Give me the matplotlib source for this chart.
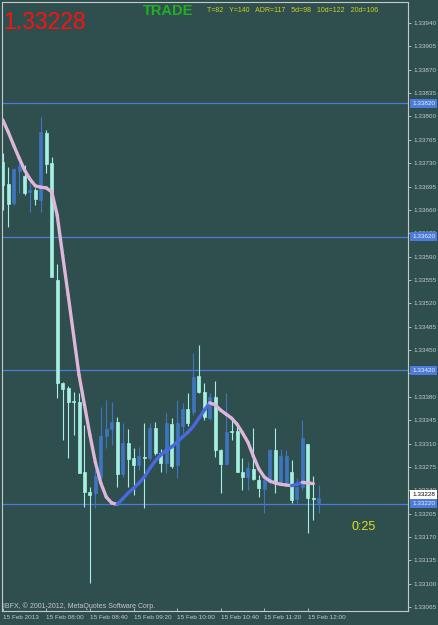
import matplotlib
matplotlib.use("Agg")
import matplotlib.pyplot as plt
import numpy as np
import pandas as pd

plt.rcParams['font.family'] = ['Liberation Sans', 'DejaVu Sans']

# M5 bars, 15 Feb 2013 from 07:20
opens = [1.33732, 1.33699, 1.33670, 1.33718, 1.33711, 1.33687, 1.33690, 1.33675, 1.33775, 1.33730,
         1.33555, 1.33401, 1.33393, 1.33374, 1.33372, 1.33267, 1.33237, 1.33236, 1.33260, 1.33321,
         1.33332, 1.33342, 1.33264, 1.33311, 1.33288, 1.33278, 1.33290, 1.33288, 1.33333, 1.33296,
         1.33281, 1.33339, 1.33278, 1.33336, 1.33362, 1.33357, 1.33411, 1.33387, 1.33348, 1.33380,
         1.33300, 1.33279, 1.33329, 1.33329, 1.33267, 1.33260, 1.33272, 1.33255, 1.33242, 1.33252,
         1.33300, 1.33251, 1.33252, 1.33267, 1.33227, 1.33245, 1.33309, 1.33228, 1.33221]
highs = [1.33745, 1.33724, 1.33723, 1.33732, 1.33727, 1.33711, 1.33693, 1.33799, 1.33780, 1.33739,
         1.33579, 1.33402, 1.33396, 1.33387, 1.33386, 1.33338, 1.33245, 1.33270, 1.33365, 1.33375,
         1.33372, 1.33350, 1.33341, 1.33332, 1.33303, 1.33305, 1.33341, 1.33341, 1.33342, 1.33302,
         1.33356, 1.33348, 1.33375, 1.33371, 1.33386, 1.33446, 1.33458, 1.33401, 1.33386, 1.33404,
         1.33302, 1.33386, 1.33350, 1.33339, 1.33288, 1.33282, 1.33333, 1.33263, 1.33258, 1.33302,
         1.33333, 1.33302, 1.33300, 1.33285, 1.33258, 1.33345, 1.33309, 1.33261, 1.33248]
lows = [1.33660, 1.33634, 1.33667, 1.33685, 1.33682, 1.33657, 1.33667, 1.33657, 1.33715, 1.33560,
        1.33378, 1.33315, 1.33288, 1.33323, 1.33266, 1.33215, 1.33101, 1.33214, 1.33255, 1.33303,
        1.33308, 1.33245, 1.33260, 1.33245, 1.33233, 1.33270, 1.33214, 1.33285, 1.33293, 1.33267,
        1.33266, 1.33273, 1.33258, 1.33326, 1.33336, 1.33353, 1.33386, 1.33345, 1.33345, 1.33290,
        1.33236, 1.33278, 1.33315, 1.33267, 1.33240, 1.33240, 1.33255, 1.33230, 1.33206, 1.33249,
        1.33236, 1.33248, 1.33249, 1.33221, 1.33221, 1.33240, 1.33176, 1.33196, 1.33206]
closes = [1.33697, 1.33669, 1.33721, 1.33726, 1.33685, 1.33690, 1.33676, 1.33777, 1.33729, 1.33560,
          1.33401, 1.33392, 1.33372, 1.33372, 1.33266, 1.33237, 1.33233, 1.33261, 1.33321, 1.33332,
          1.33342, 1.33264, 1.33311, 1.33287, 1.33278, 1.33291, 1.33288, 1.33333, 1.33296, 1.33281,
          1.33341, 1.33276, 1.33341, 1.33362, 1.33341, 1.33410, 1.33387, 1.33350, 1.33380, 1.33300,
          1.33279, 1.33327, 1.33327, 1.33267, 1.33260, 1.33273, 1.33257, 1.33243, 1.33255, 1.33300,
          1.33251, 1.33291, 1.33291, 1.33225, 1.33245, 1.33318, 1.33228, 1.33227, 1.33228]
ma = [1.33795, 1.33777, 1.33757, 1.33738, 1.33720, 1.33706, 1.33696, 1.33694, 1.33693, 1.33687,
      1.33652, 1.33592, 1.33533, 1.33473, 1.33413, 1.33368, 1.33323, 1.33282, 1.33251, 1.33230,
      1.33221, 1.33219, 1.33227, 1.33236, 1.33243, 1.33251, 1.33260, 1.33273, 1.33284, 1.33293,
      1.33300, 1.33305, 1.33312, 1.33320, 1.33327, 1.33336, 1.33348, 1.33360, 1.33371, 1.33368,
      1.33360, 1.33354, 1.33348, 1.33339, 1.33326, 1.33312, 1.33291, 1.33272, 1.33260, 1.33254,
      1.33251, 1.33249, 1.33248, 1.33247, 1.33249, 1.33252, 1.33251, 1.33250]

hlines = [1.33820, 1.33620, 1.33420, 1.33220]
bid = 1.33228
time_ticks = ['08:00', '08:40', '09:20', '10:00', '10:40', '11:20', '12:00']

bg = '#2F4F4F'
bull_col = '#3F74BE'
bear_col = '#A6F0E2'
grid_col = '#C8C8C8'

fig = plt.figure(figsize=(4.39, 6.25), dpi=100, facecolor=bg)
ax = fig.add_axes([2 / 439, 14 / 625, 406 / 439, 609 / 625], facecolor=bg)

o = np.array(opens)
h = np.array(highs)
l = np.array(lows)
c = np.array(closes)
idx = np.arange(len(o))
up = c > o
cols = np.where(up, bull_col, bear_col)

ax.vlines(idx, l, h, colors=cols, linewidth=0.8, zorder=2)
body_lo = np.minimum(o, c)
body_h = np.maximum(np.abs(c - o), 0.000012)
ax.bar(idx, body_h, bottom=body_lo, width=0.55, color=cols, edgecolor=cols,
       linewidth=0.5, zorder=3)

# moving average, coloured by slope
m = np.array(ma)
for i in range(len(m) - 1):
    col = '#4A68E0' if m[i + 1] > m[i] else '#DDB6DA'
    ax.plot([i, i + 1], [m[i], m[i + 1]], color=col, linewidth=2.4,
            solid_capstyle='round', zorder=4)

for v in hlines:
    ax.axhline(v, color='#4C7CD8', linewidth=0.9, zorder=1)

ax.set_xlim(-0.13, 74.37)
ax.set_ylim(1.330592, 1.339715)

# price scale
yt = np.round(np.arange(1.33940, 1.33060, -0.00035), 5)
ax.yaxis.tick_right()
ax.set_yticks(yt)
ax.set_yticklabels(['%.5f' % v for v in yt])
ax.tick_params(axis='y', colors=grid_col, labelsize=4.6, length=2.5, width=0.6, pad=1.5)

# time scale
times = pd.date_range('2013-02-15 07:20', periods=len(o), freq='5min')
tpos = [0] + [i for i, t in enumerate(times) if t.strftime('%H:%M') in time_ticks]
tlab = ['15 Feb 2013'] + ['15 Feb ' + times[i].strftime('%H:%M') for i in tpos[1:]]
ax.set_xticks(tpos)
ax.set_xticklabels(tlab, ha='left')
ax.tick_params(axis='x', colors=grid_col, labelsize=4.6, length=2.5, width=0.6, pad=3,
               direction='in')

for s in ax.spines.values():
    s.set_color(grid_col)
    s.set_linewidth(0.8)

# right-side price boxes
for v in hlines:
    ax.annotate('%.5f' % v, xy=(1.0, v), xycoords=('axes fraction', 'data'),
                xytext=(3, 0), textcoords='offset points', ha='left', va='center',
                fontsize=4.6, color='#E8F0FF', annotation_clip=False, zorder=6,
                bbox=dict(boxstyle='square,pad=0.3', fc='#4C7CD8', ec='none'))
ax.annotate('%.5f' % bid, xy=(1.0, bid), xycoords=('axes fraction', 'data'),
            xytext=(3, 3), textcoords='offset points', ha='left', va='center',
            fontsize=4.6, color='black', annotation_clip=False, zorder=6,
            bbox=dict(boxstyle='square,pad=0.3', fc='white', ec='none'))

# texts
fig.text(3 / 439, 1 - 29 / 625, '%.5f' % bid, color='#FF1010', fontsize=16.5,
         ha='left', va='baseline')
fig.text(143 / 439, 1 - 15 / 625, 'TRADE', color='#22B022', fontsize=10.5,
         fontweight='bold', ha='left', va='baseline')
fig.text(207 / 439, 1 - 12 / 625, 'T=82   Y=140   ADR=117   5d=98   10d=122   20d=106',
         color='#D0D020', fontsize=5.0, ha='left', va='baseline')
fig.text(352 / 439, 1 - 530 / 625, '0:25', color='#E0E020', fontsize=9, ha='left',
         va='baseline')
fig.text(3 / 439, 1 - 608 / 625, 'IBFX, \u00a9 2001-2012, MetaQuotes Software Corp.',
         color=grid_col, fontsize=5.0, ha='left', va='baseline')

fig.savefig('out.png', dpi=100, facecolor=bg)
